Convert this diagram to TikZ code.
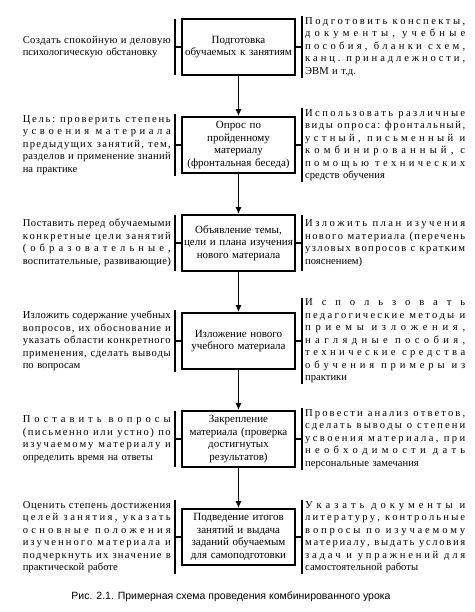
\documentclass[tikz,border=0pt]{standalone}
\usepackage{fontspec}
\setmainfont{Liberation Serif}
\newfontfamily\capfont{Liberation Sans}
\usepackage{tikz}
\usepackage{xcolor}
\usetikzlibrary{arrows.meta}
% one line of a side note, spread over the full width
\ExplSyntaxOn
\seq_new:N \l_jl_words_seq
\cs_new:Npn \jl_spread:n #1 { \tl_map_inline:nn {#1} { ##1 \hfil } \unskip }
\NewDocumentCommand \jl { m }
  {
    \seq_set_split:Nnn \l_jl_words_seq { ~ } {#1}
    \makebox[\linewidth][s]
      { \seq_map_inline:Nn \l_jl_words_seq { \jl_spread:n {##1} \hskip .28em plus 1fil } \unskip }
    \\
  }
\ExplSyntaxOff

\begin{document}
\begin{tikzpicture}[x=1pt,y=-1pt,
    stage/.style={draw,line width=1.6pt,minimum width=113pt,minimum height=56pt,
      text width=109pt,align=center,inner sep=2pt,font=\fontsize{11}{12.5}\selectfont},
    notel/.style={anchor=east,text width=148pt,align=left,inner xsep=4pt,inner ysep=1pt,
      minimum height=56pt,font=\fontsize{10.6}{12.5}\selectfont},
    noter/.style={anchor=west,text width=160pt,align=left,inner xsep=3pt,inner ysep=1pt,
      minimum height=56pt,font=\fontsize{10.6}{12.5}\selectfont},
    flow/.style={line width=1.4pt,-{Latex[length=7pt,width=6pt]}},
    brace/.style={line width=1.2pt}]
        \useasboundingbox (0,0) rectangle (474,612);

        % Draw the stages
        \node[stage] (b1) at (238.5,47) {Подготовка\\обучаемых к занятиям};
        \node[stage] (b2) at (238.5,145) {Опрос по\\пройденному\\материалу\\(фронтальная беседа)};
        \node[stage] (b3) at (238.5,243) {Объявление темы,\\цели и плана изучения\\нового материала};
        \node[stage] (b4) at (238.5,341) {Изложение нового\\учебного материала};
        \node[stage] (b5) at (238.5,439) {Закрепление\\материала (проверка\\достигнутых\\результатов)};
        \node[stage] (b6) at (238.5,537) {Подведение итогов\\занятий и выдача\\заданий обучаемым\\для самоподготовки};

        % Draw the notes on the left
        \node[notel] (l1) at (175,47) {\jl{Создать спокойную и деловую}психологическую обстановку};
        \node[notel] (l2) at (175,145) {\jl{Цель: проверить степень}\jl{усвоения материала}\jl{предыдущих занятий, тем,}\jl{разделов и применение знаний}на практике};
        \node[notel] (l3) at (175,243) {\jl{Поставить перед обучаемыми}\jl{конкретные цели занятий}\jl{(образовательные,}\jl{воспитательные, развивающие)}};
        \node[notel] (l4) at (175,341) {\jl{Изложить содержание учебных}\jl{вопросов, их обоснование и}\jl{указать области конкретного}\jl{применения, сделать выводы}по вопросам};
        \node[notel] (l5) at (175,439) {\jl{Поставить вопросы}\jl{(письменно или устно) по}\jl{изучаемому материалу и}определить время на ответы};
        \node[notel] (l6) at (175,537) {\jl{Оценить степень достижения}\jl{целей занятия, указать}\jl{основные положения}\jl{изученного материала и}\jl{подчеркнуть их значение в}практической работе};

        % Draw the notes on the right
        \node[noter] (r1) at (302,47) {\jl{Подготовить конспекты,}\jl{документы, учебные}\jl{пособия, бланки схем,}\jl{канц. принадлежности,}ЭВМ и т.д.};
        \node[noter] (r2) at (302,145) {\jl{Использовать различные}\jl{виды опроса: фронтальный,}\jl{устный, письменный и}\jl{комбинированный, с}\jl{помощью технических}средств обучения};
        \node[noter] (r3) at (302,243) {\jl{Изложить план изучения}\jl{нового материала (перечень}\jl{узловых вопросов с кратким}пояснением)};
        \node[noter] (r4) at (302,341) {\jl{Использовать}\jl{педагогические методы и}\jl{приемы изложения,}\jl{наглядные пособия,}\jl{технические средства}\jl{обучения примеры из}практики};
        \node[noter] (r5) at (302,439) {\jl{Провести анализ ответов,}\jl{сделать выводы о степени}\jl{усвоения материала, при}\jl{необходимости дать}персональные замечания};
        \node[noter] (r6) at (302,537) {\jl{Указать документы и}\jl{литературу, контрольные}\jl{вопросы по изучаемому}\jl{материалу, выдать условия}\jl{задач и упражнений для}самостоятельной работы};

        % Draw brackets and ticks
        \foreach \i in {1,...,6} {
          \draw[brace] (l\i.north east) -- (l\i.south east);
          \draw[brace] (l\i.east) -- (b\i.west);
          \draw[brace] (r\i.north west) -- (r\i.south west);
          \draw[brace] (r\i.west) -- (b\i.east);
        }

        % Draw the flow arrows
        \foreach \i/\j in {1/2,2/3,3/4,4/5,5/6}
          \draw[flow] (b\i.south) -- (b\j.north);

        % Caption
        \node[font=\capfont\fontsize{10.5}{12}\selectfont] (cap) at (231,597) {Рис. 2.1. Примерная схема проведения комбинированного урока};
    \end{tikzpicture}
\end{document}
